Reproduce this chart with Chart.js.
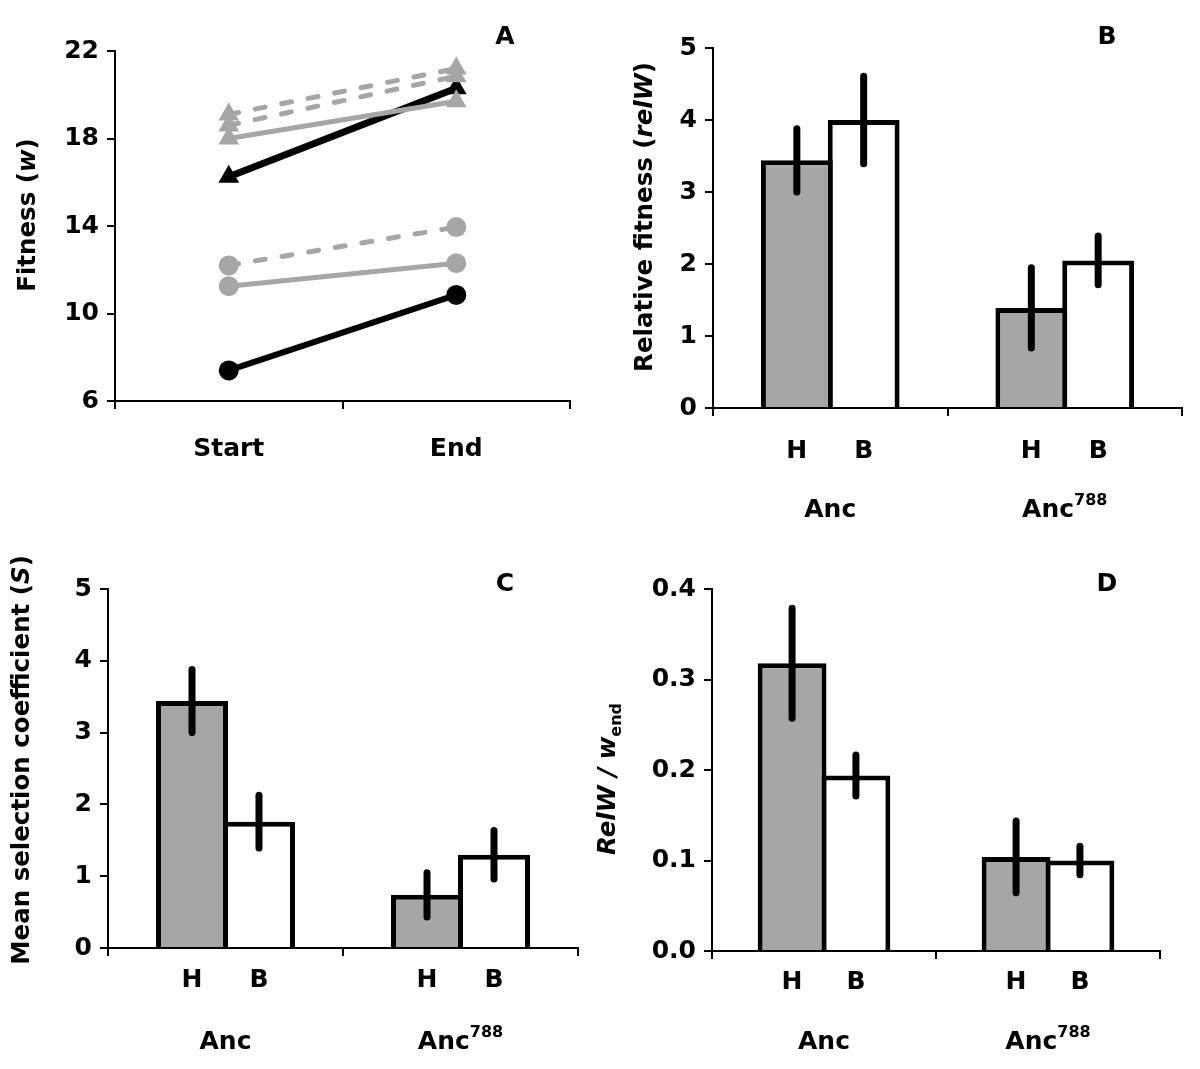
<!DOCTYPE html>
<html>
<head>
<meta charset="utf-8">
<script src="https://cdn.jsdelivr.net/npm/chart.js@4.4.0/dist/chart.umd.min.js"></script>
<style>
body { margin: 0; background: #fff; }
#wrap { position: relative; width: 1200px; height: 1069px; }
#wrap canvas { position: absolute; left: 0; top: 0; }
</style>
</head>
<body>
<div id="wrap">
    <canvas id="panel-a" width="1200" height="1069"></canvas>
    <canvas id="panel-b" width="1200" height="1069"></canvas>
    <canvas id="panel-c" width="1200" height="1069"></canvas>
    <canvas id="panel-d" width="1200" height="1069"></canvas>
</div>
<script>
// Panel A: fitness (w) at the start and the end
var phases = ["Start", "End"];
var blackCircles = [7.4, 10.85];
var greyCircles = [11.25, 12.3];
var greyCirclesDashed = [12.2, 13.95];
var blackTriangles = [16.25, 20.3];
var greyTriangles = [18.0, 19.7];
var greyTrianglesDashedLow = [18.6, 20.85];
var greyTrianglesDashedHigh = [19.1, 21.2];

// Panels B-D: H and B treatments for each ancestor
var ancestors = ["Anc", "Anc788"];   // digits after "Anc" are drawn as superscript
var treatments = ["H", "B"];

var relW_H = [3.44, 1.39];
var relW_B = [4.0, 2.05];
var relW_H_err = [0.48, 0.6];
var relW_B_err = [0.65, 0.38];

var selS_H = [3.44, 0.74];
var selS_B = [1.76, 1.3];
var selS_H_err = [0.48, 0.35];
var selS_B_err = [0.41, 0.38];

var ratio_H = [0.318, 0.104];
var ratio_B = [0.194, 0.1];
var ratio_H_err = [0.064, 0.043];
var ratio_B_err = [0.026, 0.019];

var FONT = "DejaVu Sans";
var GREY = "#a6a6a6";
var W = 1200, H = 1069;
var YW = 80, XH = 70;  // fixed axis box sizes
var EDGE = 5;          // bar outline width

Chart.defaults.font.family = FONT;
Chart.defaults.font.weight = "bold";
Chart.defaults.font.size = 25;
Chart.defaults.color = "#000";
Chart.defaults.animation = false;

function textParts(ctx, parts, x, y, angle)
{
    // parts: [text, size, italic, baseline shift]
    var total = 0;
    var widths = [];
    parts.forEach(function(p){
        ctx.font = (p[2] ? "italic " : "") + "bold " + p[1] + "px '" + FONT + "'";
        var w = ctx.measureText(p[0]).width;
        widths.push(w);
        total += w;
    });
    ctx.save();
    ctx.translate(x, y);
    ctx.rotate(angle);
    ctx.fillStyle = "#000";
    ctx.textAlign = "left";
    ctx.textBaseline = "alphabetic";
    var cx = -total / 2;
    parts.forEach(function(p, i){
        ctx.font = (p[2] ? "italic " : "") + "bold " + p[1] + "px '" + FONT + "'";
        ctx.fillText(p[0], cx, p[3]);
        cx += widths[i];
    });
    ctx.restore();
}

function layoutFor(area)
{
    return {
        autoPadding: false,
        padding: {
            left: area.left - YW,
            top: area.top,
            right: W - area.right,
            bottom: H - area.bottom - XH
        }
    };
}

function decorPlugin(title, titlePos, letter, letterPos)
{
    return {
        id: "decor",
        afterDraw: function(chart){
            var ctx = chart.ctx;
            textParts(ctx, title, titlePos[0], titlePos[1], -Math.PI / 2);
            textParts(ctx, [[letter, 25, false, 9]], letterPos[0], letterPos[1], 0);
        }
    };
}

function yAxis(min, max, step, digits)
{
    return {
        min: min,
        max: max,
        ticks: {
            stepSize: step,
            padding: 8,
            font: { size: 25, weight: "bold" },
            callback: function(v){ return Number(v).toFixed(digits); }
        },
        grid: { drawOnChartArea: false, color: "#000", lineWidth: 2, tickLength: 8 },
        border: { color: "#000", width: 2 },
        afterFit: function(s){ s.width = YW; }
    };
}

function xAxis(showLabels)
{
    return {
        type: "category",
        offset: true,
        ticks: { display: showLabels, padding: 25, maxRotation: 0, font: { size: 25, weight: "bold" } },
        grid: { offset: true, drawOnChartArea: false, color: "#000", lineWidth: 2, tickLength: 8 },
        border: { color: "#000", width: 2 },
        afterFit: function(s){ s.height = XH; }
    };
}

function lineSet(values, colour, dashed, shape, width, radius)
{
    return {
        data: values,
        borderColor: colour,
        backgroundColor: colour,
        pointBackgroundColor: colour,
        pointBorderColor: colour,
        pointBorderWidth: 0,
        borderWidth: width,
        borderDash: dashed ? [10, 17] : [],
        borderCapStyle: "round",
        pointStyle: shape,
        pointRadius: radius,
        tension: 0
    };
}

// ---- Panel A ----
var areaA = { left: 115, right: 570, top: 51, bottom: 401 };
new Chart(document.getElementById("panel-a"), {
    type: "line",
    data: {
        labels: phases,
        datasets: [
            // first dataset ends up on top
            lineSet(greyTrianglesDashedHigh, GREY, true, "triangle", 5, 12),
            lineSet(greyTrianglesDashedLow, GREY, true, "triangle", 5, 12),
            lineSet(greyTriangles, GREY, false, "triangle", 5, 12),
            lineSet(blackTriangles, "#000", false, "triangle", 7, 12),
            lineSet(greyCirclesDashed, GREY, true, "circle", 5, 10),
            lineSet(greyCircles, GREY, false, "circle", 5, 10),
            lineSet(blackCircles, "#000", false, "circle", 6, 10)
        ]
    },
    options: {
        responsive: false,
        layout: layoutFor(areaA),
        plugins: { legend: { display: false }, tooltip: { enabled: false } },
        scales: {
            x: xAxis(true),
            y: yAxis(6, 22, 4, 0)
        }
    },
    plugins: [decorPlugin(
        [["Fitness (", 24.5, false, 9], ["w", 24.5, true, 9], [")", 24.5, false, 9]],
        [26, 215], "A", [505, 35])]
});

// ---- Bar panels ----
function errorBarPlugin(errs)
{
    return {
        id: "errorBars",
        afterDatasetsDraw: function(chart){
            var ctx = chart.ctx;
            var y = chart.scales.y;
            ctx.save();
            ctx.strokeStyle = "#000";
            ctx.lineWidth = 7;
            ctx.lineCap = "round";
            errs.forEach(function(e, d){
                var vals = chart.data.datasets[d].data;
                chart.getDatasetMeta(d).data.forEach(function(bar, i){
                    ctx.beginPath();
                    ctx.moveTo(bar.x, y.getPixelForValue(vals[i] + e[i]) + 3);
                    ctx.lineTo(bar.x, y.getPixelForValue(vals[i] - e[i]) - 3);
                    ctx.stroke();
                });
            });
            ctx.restore();
        }
    };
}

function labelPlugin(hbY, groupY)
{
    return {
        id: "barLabels",
        afterDraw: function(chart){
            var ctx = chart.ctx;
            var bottom = chart.chartArea.bottom;
            var xs = chart.scales.x;
            chart.data.datasets.forEach(function(ds, d){
                chart.getDatasetMeta(d).data.forEach(function(bar){
                    textParts(ctx, [[ds.label, 25, false, 9]], bar.x, bottom + hbY, 0);
                });
            });
            chart.data.labels.forEach(function(lab, i){
                textParts(ctx, [[lab.slice(0, 3), 25, false, 9], [lab.slice(3), 16, false, -3]],
                          xs.getPixelForValue(i), bottom + groupY, 0);
            });
        }
    };
}

function barPanel(canvasId, area, hVals, bVals, hErr, bErr, yOpts, title, titlePos, letter, letterPos, hbY, groupY)
{
    var catPct = 0.57;
    var slot = (area.right - area.left) / ancestors.length * catPct / treatments.length;
    var barPct = 1 + EDGE / slot;  // neighbouring bars share one edge
    var common = {
        borderColor: "#000",
        borderWidth: { top: EDGE, left: EDGE, right: EDGE, bottom: 0 },
        borderSkipped: "start",
        categoryPercentage: catPct,
        barPercentage: barPct
    };
    return new Chart(document.getElementById(canvasId), {
        type: "bar",
        data: {
            labels: ancestors,
            datasets: [
                Object.assign({ label: treatments[0], data: hVals, backgroundColor: GREY }, common),
                Object.assign({ label: treatments[1], data: bVals, backgroundColor: "#fff" }, common)
            ]
        },
        options: {
            responsive: false,
            layout: layoutFor(area),
            plugins: { legend: { display: false }, tooltip: { enabled: false } },
            scales: {
                x: xAxis(false),
                y: yOpts
            }
        },
        plugins: [errorBarPlugin([hErr, bErr]), labelPlugin(hbY, groupY),
                  decorPlugin(title, titlePos, letter, letterPos)]
    });
}

barPanel("panel-b", { left: 713, right: 1182, top: 48, bottom: 408 },
    relW_H, relW_B, relW_H_err, relW_B_err, yAxis(0, 5, 1, 0),
    [["Relative fitness (", 24.5, false, 9], ["relW", 24.5, true, 9], [")", 24.5, false, 9]],
    [643, 217], "B", [1107, 35], 41, 100);

barPanel("panel-c", { left: 108, right: 578, top: 589, bottom: 948 },
    selS_H, selS_B, selS_H_err, selS_B_err, yAxis(0, 5, 1, 0),
    [["Mean selection coefficient (", 24.5, false, 9], ["S", 24.5, true, 9], [")", 24.5, false, 9]],
    [20, 760], "C", [505, 582], 30, 92);

barPanel("panel-d", { left: 712, right: 1160, top: 589, bottom: 951 },
    ratio_H, ratio_B, ratio_H_err, ratio_B_err, yAxis(0, 0.4, 0.1, 1),
    [["RelW / w", 24.5, true, 9], ["end", 16, false, 15]],
    [606, 779], "D", [1107, 582], 29, 89);
</script>
</body>
</html>
